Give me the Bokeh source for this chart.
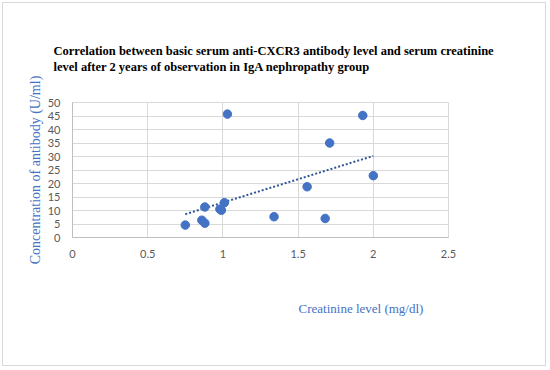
import numpy as np
from bokeh.plotting import figure
from bokeh.models import Title, Range1d, FixedTicker
from bokeh.embed import file_html
from bokeh.resources import INLINE

creatinine = [0.75, 0.86, 0.88, 0.88, 0.98, 0.99, 1.01, 1.03, 1.34, 1.56, 1.71, 1.68, 1.93, 2.00]
antibody = [4.6, 6.4, 5.3, 11.3, 10.5, 10.1, 12.9, 45.7, 7.7, 18.8, 35.0, 7.05, 45.2, 22.9]
x_ticks = [0, 0.5, 1, 1.5, 2, 2.5]
y_ticks = [0, 5, 10, 15, 20, 25, 30, 35, 40, 45, 50]
title_lines = ["Correlation between basic serum anti-CXCR3 antibody level and serum creatinine",
               "level after 2 years of observation in IgA nephropathy group"]
x_label = "Creatinine level (mg/dl)"
y_label = "Concentration of antibody (U/ml)"

W, H = 544, 364
p = figure(width=W, height=H, output_backend="svg", toolbar_location=None, title=None,
           x_range=Range1d(0, 2.5), y_range=Range1d(0, 50),
           min_border_left=69, min_border_right=99, min_border_top=99, min_border_bottom=130)
p.styles = {"border": "1px solid #D9D9D9", "margin": "2px"}
p.outline_line_color = "#D9D9D9"
p.background_fill_color = "white"
p.border_fill_color = "white"

for ax, ticks in ((p.xaxis[0], x_ticks), (p.yaxis[0], y_ticks)):
    ax.ticker = FixedTicker(ticks=ticks)
    ax.major_tick_line_color = None
    ax.minor_tick_line_color = None
    ax.axis_line_color = "#BFBFBF"
    ax.major_label_text_color = "#595959"
    ax.major_label_text_font = "Lato"
    ax.major_label_text_font_size = "11px"
p.xaxis.major_label_standoff = 6
p.yaxis.major_label_standoff = 6
p.xgrid.ticker = FixedTicker(ticks=x_ticks)
p.ygrid.ticker = FixedTicker(ticks=y_ticks)
p.grid.grid_line_color = "#D9D9D9"

p.yaxis.axis_label = y_label
p.yaxis.axis_label_text_font = "Liberation Serif"
p.yaxis.axis_label_text_font_style = "normal"
p.yaxis.axis_label_text_font_size = "14px"
p.yaxis.axis_label_text_color = "#4472C4"
p.yaxis.axis_label_standoff = 2

# trendline (least squares)
k, b = np.polyfit(creatinine, antibody, 1)
xs = [min(creatinine), max(creatinine)]
p.line(xs, [k * v + b for v in xs], line_color="#2F5597", line_width=2, line_dash="2 2")
p.scatter(creatinine, antibody, size=8.5, fill_color="#4472C4", line_color="#4472C4")

common = dict(text_font="Liberation Serif", text_font_style="bold", text_font_size="12.5px",
              text_color="black", align="left", offset=-19, standoff=0)
p.add_layout(Title(text=" ", text_font_size="1px", standoff=26), "above")
p.add_layout(Title(text=title_lines[1], **common), "above")
p.add_layout(Title(text=title_lines[0], **common), "above")

p.add_layout(Title(text=x_label, text_font="Liberation Serif", text_font_style="normal",
                   text_font_size="13px", text_color="#4472C4", align="left", offset=226,
                   standoff=76), "below")

open("out.html", "w").write(file_html(p, INLINE))
